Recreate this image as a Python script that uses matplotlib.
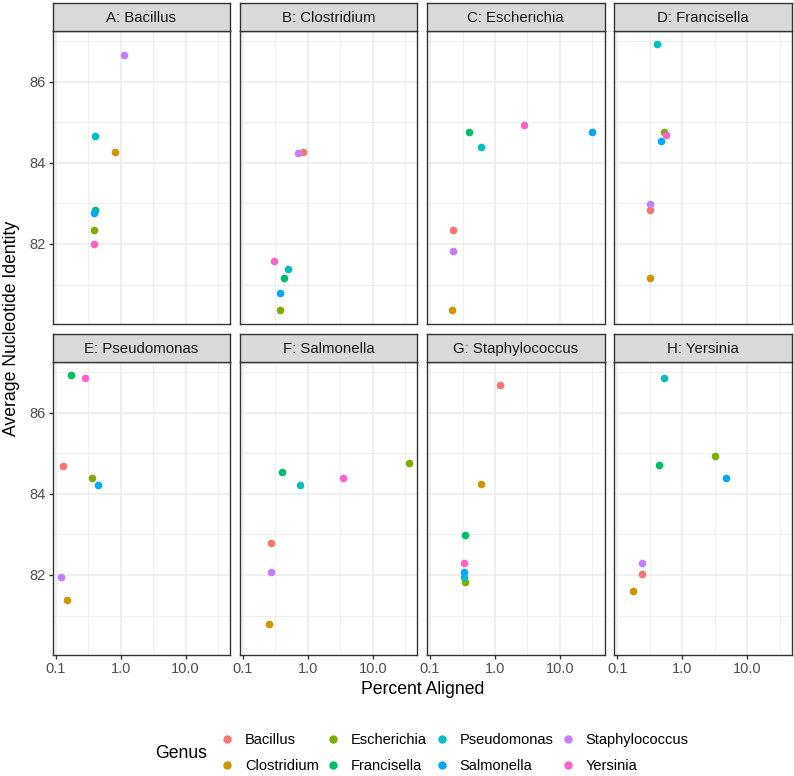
import numpy as np
import matplotlib
matplotlib.use("Agg")
import matplotlib.pyplot as plt
from matplotlib.lines import Line2D

plt.rcParams['font.family'] = ['Liberation Sans', 'DejaVu Sans']

nan = np.nan
genera = ["Bacillus", "Clostridium", "Escherichia", "Francisella",
          "Pseudomonas", "Salmonella", "Staphylococcus", "Yersinia"]
colors = ["#F8766D", "#CD9600", "#7CAE00", "#00BE67",
          "#00BFC4", "#00A9FF", "#C77CFF", "#FF61CC"]
panel_titles = ["A: Bacillus", "B: Clostridium", "C: Escherichia", "D: Francisella",
                "E: Pseudomonas", "F: Salmonella", "G: Staphylococcus", "H: Yersinia"]

# percent aligned / ANI of each genus (in genera order) against the panel genus
x_bacillus = [nan, 0.81, 0.39, 0.40, 0.41, 0.39, 1.14, 0.39]
y_bacillus = [nan, 84.27, 82.35, 82.84, 84.67, 82.77, 86.66, 82.01]
x_clostridium = [0.83, nan, 0.377, 0.435, 0.494, 0.377, 0.695, 0.305]
y_clostridium = [84.27, nan, 80.37, 81.17, 81.38, 80.79, 84.24, 81.59]
x_escherichia = [0.228, 0.22, nan, 0.40, 0.618, 31.3, 0.228, 2.81]
y_escherichia = [82.35, 80.37, nan, 84.75, 84.39, 84.75, 81.83, 84.92]
x_francisella = [0.32, 0.32, 0.524, nan, 0.414, 0.471, 0.32, 0.562]
y_francisella = [82.83, 81.17, 84.75, nan, 86.92, 84.53, 82.98, 84.68]
x_pseudomonas = [0.129, 0.149, 0.368, 0.17, nan, 0.445, 0.12, 0.288]
y_pseudomonas = [84.68, 81.39, 84.39, 86.93, nan, 84.22, 81.94, 86.86]
x_salmonella = [0.268, 0.25, 36.4, 0.405, 0.763, nan, 0.268, 3.47]
y_salmonella = [82.79, 80.79, 84.76, 84.54, 84.22, nan, 82.07, 84.40]
x_staphylococcus = [1.19, 0.61, 0.34, 0.351, 0.33, 0.339, nan, 0.339]
y_staphylococcus = [86.67, 84.25, 81.83, 82.98, 81.95, 82.07, nan, 82.29]
x_yersinia = [0.238, 0.178, 3.16, 0.439, 0.53, 4.72, 0.238, nan]
y_yersinia = [82.02, 81.60, 84.93, 84.70, 86.86, 84.39, 82.29, nan]

xs = [x_bacillus, x_clostridium, x_escherichia, x_francisella,
      x_pseudomonas, x_salmonella, x_staphylococcus, x_yersinia]
ys = [y_bacillus, y_clostridium, y_escherichia, y_francisella,
      y_pseudomonas, y_salmonella, y_staphylococcus, y_yersinia]

W, H = 794, 776
DPI = 110
fig = plt.figure(figsize=(W / DPI, H / DPI), dpi=DPI)

# shared limits with ggplot-style 5% expansion (log scale on x)
allx = np.log10(np.array(xs, dtype=float))
ally = np.array(ys, dtype=float)
lx0, lx1 = np.nanmin(allx), np.nanmax(allx)
ex = 0.05 * (lx1 - lx0)
xlim = (10 ** (lx0 - ex), 10 ** (lx1 + ex))
y0, y1 = np.nanmin(ally), np.nanmax(ally)
ey = 0.05 * (y1 - y0)
ylim = (y0 - ey, y1 + ey)

left, pw, gap = 52.7, 177.4, 9.8
ph, sh = 293.0, 28.0
row_tops = [2.5, 333.5]
border = "#333333"
grid = "#EBEBEB"

def fx(px):
    return px / W

def fy(py):
    return 1 - py / H

for i in range(8):
    r, c = divmod(i, 4)
    x0 = left + c * (pw + gap)
    ptop = row_tops[r] + sh
    ax = fig.add_axes([fx(x0), fy(ptop + ph), pw / W, ph / H])
    ax.set_xscale("log")
    ax.set_xlim(xlim)
    ax.set_ylim(ylim)
    for j in range(8):
        ax.scatter(xs[i][j], ys[i][j], s=25, color=colors[j], linewidths=0, zorder=3)
    ax.set_xticks([0.1, 1, 10])
    ax.set_xticks([10 ** -0.5, 10 ** 0.5, 10 ** 1.5], minor=True)
    ax.set_yticks([82, 84, 86])
    ax.set_yticks([81, 83, 85, 87], minor=True)
    ax.grid(True, which="major", color=grid, linewidth=1.0, zorder=0)
    ax.grid(True, which="minor", color=grid, linewidth=0.5, zorder=0)
    ax.set_axisbelow(True)
    for s in ax.spines.values():
        s.set_color(border)
        s.set_linewidth(0.9)
    ax.tick_params(which="minor", length=0)
    ax.tick_params(which="major", length=2.75, width=0.9, color=border,
                   labelsize=9.6, labelcolor="#4D4D4D", pad=2.2)
    if r == 1:
        ax.set_xticklabels(["0.1", "1.0", "10.0"])
    else:
        ax.tick_params(axis="x", length=0, labelbottom=False)
    if c == 0:
        ax.set_yticklabels(["82", "84", "86"])
    else:
        ax.tick_params(axis="y", length=0, labelleft=False)

    # facet strip
    sax = fig.add_axes([fx(x0), fy(ptop), pw / W, sh / H])
    sax.set_xticks([])
    sax.set_yticks([])
    sax.set_facecolor("#D9D9D9")
    for s in sax.spines.values():
        s.set_color(border)
        s.set_linewidth(0.9)
    sax.text(0.5, 0.46, panel_titles[i], ha="center", va="center",
             fontsize=9.8, color="#1A1A1A", transform=sax.transAxes)

panel_right = left + 4 * pw + 3 * gap
fig.text(fx((left + panel_right) / 2), fy(690), "Percent Aligned",
         ha="center", va="center", fontsize=11.5)
fig.text(fx(12), fy((row_tops[0] + row_tops[1] + sh + ph) / 2),
         "Average Nucleotide Identity", rotation=90,
         ha="center", va="center", fontsize=11.5)

handles = [Line2D([], [], marker="o", linestyle="", markersize=5.5,
                  markerfacecolor=col, markeredgewidth=0) for col in colors]
fig.legend(handles, genera, loc="center left", ncol=4, frameon=False,
           bbox_to_anchor=(fx(220), fy(753)), fontsize=9.6,
           handlelength=1.0, handletextpad=0.7, columnspacing=0.5,
           labelspacing=0.8, borderaxespad=0, borderpad=0)
fig.text(fx(181), fy(753), "Genus", ha="center", va="center", fontsize=11.5)

fig.savefig("out.png", dpi=DPI)
